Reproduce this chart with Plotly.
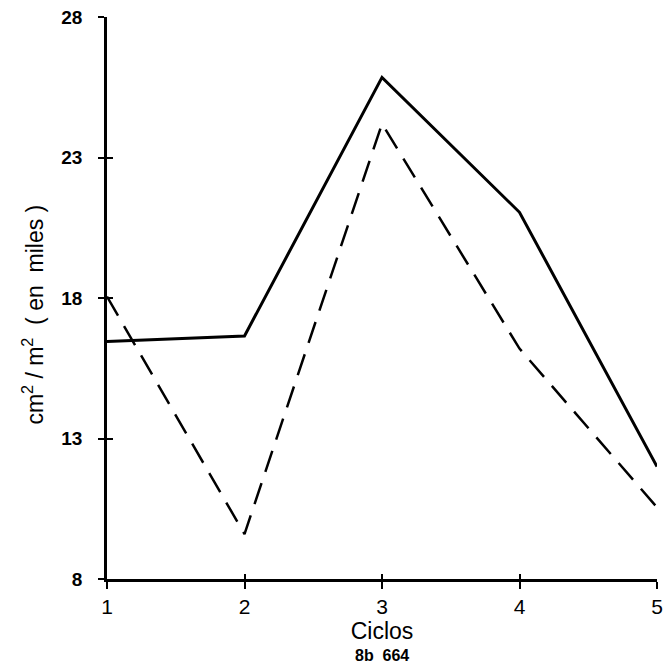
import plotly.graph_objects as go

ciclos = [1, 2, 3, 4, 5]
serie_solida = [16.45, 16.65, 25.85, 21.05, 12.0]
serie_discontinua = [18.05, 9.6, 24.2, 16.2, 10.55]
y_ticks = [8, 13, 18, 23, 28]
x_ticks = [1, 2, 3, 4, 5]

FONT = "Liberation Sans"

fig = go.Figure()
fig.add_trace(go.Scatter(x=ciclos, y=serie_solida, mode="lines",
                         line=dict(color="black", width=3), showlegend=False))
fig.add_trace(go.Scatter(x=ciclos, y=serie_discontinua, mode="lines",
                         line=dict(color="black", width=2.5, dash="22px,12px"), showlegend=False))
# invisible trace to carry the inner tick marks
fig.add_trace(go.Scatter(x=ciclos, y=serie_solida, xaxis="x2", yaxis="y2",
                         mode="lines", line=dict(width=0), opacity=0,
                         hoverinfo="skip", showlegend=False))

fig.update_layout(
    width=670, height=672,
    margin=dict(l=107, r=7, t=12, b=93),
    paper_bgcolor="white", plot_bgcolor="white",
    xaxis=dict(range=[1, 5], tickvals=x_ticks, ticktext=[str(v) for v in x_ticks],
               showgrid=False, zeroline=False, showline=True, linecolor="black", linewidth=2.5,
               ticks="outside", ticklen=7, tickwidth=2, tickcolor="black",
               tickfont=dict(family=FONT, size=21, color="black"),
               title=dict(text="Ciclos", font=dict(family=FONT, size=23, color="black"), standoff=4)),
    yaxis=dict(range=[8, 28], tickvals=y_ticks, ticktext=[str(v) for v in y_ticks],
               showgrid=False, zeroline=False, showline=True, linecolor="black", linewidth=2.5,
               ticks="outside", ticklen=6, tickwidth=2, tickcolor="black", ticklabelstandoff=12,
               tickfont=dict(family=FONT, size=19, color="black", weight="bold")),
    xaxis2=dict(range=[1, 5], overlaying="x", tickvals=x_ticks, showticklabels=False,
                ticks="inside", ticklen=5, tickwidth=2, tickcolor="black",
                showgrid=False, zeroline=False, showline=False),
    yaxis2=dict(range=[8, 28], overlaying="y", tickvals=y_ticks, showticklabels=False,
                ticks="inside", ticklen=6, tickwidth=2, tickcolor="black",
                showgrid=False, zeroline=False, showline=False),
    annotations=[
        dict(text="cm<sup>2</sup> / m<sup>2</sup>  ( en  miles )", xref="paper", yref="paper",
             x=-0.135, y=0.47, textangle=-90, showarrow=False, xanchor="center", yanchor="middle",
             font=dict(family=FONT, size=23, color="black")),
        dict(text="<b>8b  664</b>", xref="paper", yref="paper", x=0.5, y=-0.137,
             showarrow=False, xanchor="center", yanchor="middle",
             font=dict(family=FONT, size=16, color="black")),
    ],
)

fig.write_html("out.html")
